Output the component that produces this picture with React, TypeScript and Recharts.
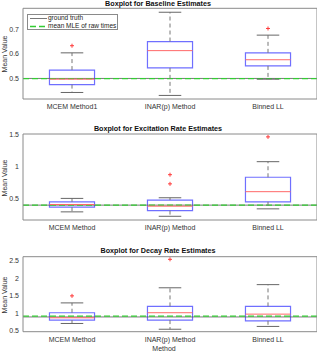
import React from 'react'
import {
  ComposedChart, XAxis, YAxis, ReferenceArea, ReferenceLine, Scatter,
} from 'recharts'

const FONT = '"Liberation Sans", Arial, Helvetica, sans-serif'

const categoriesBaseline = ['MCEM Method1', 'INAR(p) Method', 'Binned LL']
const categories = ['MCEM Method', 'INAR(p) Method', 'Binned LL']

// baseline (mu)
const baseLow = [0.443, 0.431, 0.497]
const baseQ1 = [0.475, 0.543, 0.551]
const baseMed = [0.497, 0.613, 0.576]
const baseQ3 = [0.534, 0.65, 0.604]
const baseHigh = [0.604, 0.769, 0.676]
const baseOutliers = [{ x: 1, y: 0.633 }, { x: 3, y: 0.703 }]
const baseTruth = 0.5
const baseMle = 0.499
const baseTicks = [0.5, 0.6, 0.7]

// excitation (alpha)
const excLow = [0.29, 0.221, 0.337]
const excQ1 = [0.363, 0.31, 0.447]
const excMed = [0.405, 0.379, 0.605]
const excQ3 = [0.447, 0.474, 0.83]
const excHigh = [0.5, 0.51, 1.073]
const excOutliers = [{ x: 2, y: 0.87 }, { x: 2, y: 0.727 }, { x: 3, y: 1.46 }]
const excTruth = 0.395
const excMle = 0.395
const excTicks = [0.5, 1, 1.5]

// decay (beta)
const decLow = [0.714, 0.55, 0.63]
const decQ1 = [0.81, 0.81, 0.79]
const decMed = [0.876, 1.02, 0.98]
const decQ3 = [1.02, 1.2, 1.2]
const decHigh = [1.3, 1.73, 1.82]
const decOutliers = [{ x: 1, y: 1.5 }, { x: 2, y: 2.54 }]
const decTruth = 0.9
const decMle = 0.925
const decTicks = [0.5, 1, 1.5, 2, 2.5]

const BOX_HALF = 0.23
const CAP_HALF = 0.115
const AXIS = '#8a8a8a'
const BLUE = '#6f6fff'
const RED = '#ff6868'
const GREEN = '#33cc33'

function Plus(props: any) {
  const { cx, cy } = props
  return (
    <g stroke="#ff3b3b" strokeWidth={1}>
      <line x1={cx - 2} y1={cy} x2={cx + 2} y2={cy} />
      <line x1={cx} y1={cy - 2} x2={cx} y2={cy + 2} />
    </g>
  )
}

interface PanelProps {
  top: number
  height: number
  margin: { top: number; right: number; bottom: number; left: number }
  domain: [number, number]
  ticks: number[]
  labels: string[]
  low: number[]
  q1: number[]
  med: number[]
  q3: number[]
  high: number[]
  outliers: { x: number; y: number }[]
  truth: number
  mle: number
}

function Panel(p: PanelProps) {
  const tickStyle = { fill: '#333', fontSize: 7, fontFamily: FONT }
  return (
    <div style={{ position: 'absolute', left: 0, top: p.top }}>
      <ComposedChart width={317} height={p.height} margin={p.margin}>
        <XAxis
          dataKey="x" type="number" domain={[0.5, 3.5]} ticks={[1, 2, 3]} allowDataOverflow
          tickFormatter={(v: number) => p.labels[v - 1]} interval={0}
          height={12} tickSize={2} tickMargin={3} tickLine={false}
          axisLine={{ stroke: AXIS }} tick={tickStyle}
        />
        <XAxis
          xAxisId="t" orientation="top" type="number" domain={[0.5, 3.5]} ticks={[1, 2, 3]}
          allowDataOverflow mirror tick={false} tickSize={2} height={1}
          axisLine={{ stroke: AXIS }} tickLine={{ stroke: AXIS }}
        />
        <YAxis
          type="number" domain={p.domain} ticks={p.ticks} allowDataOverflow width={23}
          tickSize={2} tickMargin={2} tickLine={false} axisLine={{ stroke: AXIS }} tick={tickStyle}
        />
        <YAxis
          yAxisId="r" orientation="right" type="number" domain={p.domain} ticks={p.ticks}
          allowDataOverflow mirror tick={false} tickSize={2} width={1}
          axisLine={{ stroke: AXIS }} tickLine={{ stroke: AXIS }}
        />
        <ReferenceLine y={p.truth} stroke="#555" strokeWidth={0.8} />
        <ReferenceLine y={p.mle} stroke={GREEN} strokeWidth={1.3} strokeDasharray="6 3" />
        {p.med.map((m, i) => {
          const x = i + 1
          return (
            <React.Fragment key={i}>
              <ReferenceLine segment={[{ x, y: p.q3[i] }, { x, y: p.high[i] }]} stroke="#777" strokeDasharray="4 3" />
              <ReferenceLine segment={[{ x, y: p.q1[i] }, { x, y: p.low[i] }]} stroke="#777" strokeDasharray="4 3" />
              <ReferenceLine segment={[{ x: x - CAP_HALF, y: p.high[i] }, { x: x + CAP_HALF, y: p.high[i] }]} stroke="#666" />
              <ReferenceLine segment={[{ x: x - CAP_HALF, y: p.low[i] }, { x: x + CAP_HALF, y: p.low[i] }]} stroke="#666" />
              <ReferenceArea x1={x - BOX_HALF} x2={x + BOX_HALF} y1={p.q1[i]} y2={p.q3[i]}
                fill="none" fillOpacity={0} stroke={BLUE} strokeWidth={1.2} />
              <ReferenceLine segment={[{ x: x - BOX_HALF, y: m }, { x: x + BOX_HALF, y: m }]} stroke={RED} />
            </React.Fragment>
          )
        })}
        <Scatter data={p.outliers} dataKey="y" shape={Plus} isAnimationActive={false} />
      </ComposedChart>
    </div>
  )
}

function Title({ text, y }: { text: string; y: number }) {
  return (
    <div style={{
      position: 'absolute', left: 158, top: y - 5, transform: 'translateX(-50%)',
      fontFamily: FONT, fontSize: 7.2, fontWeight: 'bold', lineHeight: '10px',
      whiteSpace: 'nowrap', color: '#111',
    }}>{text}</div>
  )
}

function YLabel({ y }: { y: number }) {
  return (
    <div style={{
      position: 'absolute', left: 4, top: y, transform: 'translate(-50%, -50%) rotate(-90deg)',
      fontFamily: FONT, fontSize: 7, lineHeight: '9px', whiteSpace: 'nowrap', color: '#333',
    }}>Mean Value</div>
  )
}

function LegendBox() {
  return (
    <div style={{
      position: 'absolute', left: 27, top: 13.5, width: 91, height: 16,
      border: `1px solid ${AXIS}`, background: '#fff', boxSizing: 'border-box',
      fontFamily: FONT, fontSize: 6.5, color: '#222',
    }}>
      <svg width={18} height={16} style={{ position: 'absolute', left: 1, top: 0 }}>
        <line x1={1} y1={3.5} x2={18} y2={3.5} stroke="#555" strokeWidth={0.8} />
        <line x1={1} y1={11.5} x2={18} y2={11.5} stroke={GREEN} strokeWidth={1.3} strokeDasharray="6 3" />
      </svg>
      <div style={{ position: 'absolute', left: 20, top: -1, lineHeight: '8px' }}>ground truth</div>
      <div style={{ position: 'absolute', left: 20, top: 7.5, lineHeight: '8px' }}>mean MLE of raw times</div>
    </div>
  )
}

export default function App() {
  return (
    <div style={{ position: 'absolute', left: 0, top: 0, width: 317, height: 351, background: '#fff' }}>
      <Panel
        top={0} height={120} margin={{ top: 8.3, right: 0, bottom: 9, left: 0 }}
        domain={[0.4165, 0.785]} ticks={baseTicks} labels={categoriesBaseline}
        low={baseLow} q1={baseQ1} med={baseMed} q3={baseQ3} high={baseHigh}
        outliers={baseOutliers} truth={baseTruth} mle={baseMle}
      />
      <Panel
        top={120} height={115} margin={{ top: 14, right: 0, bottom: 3, left: 0 }}
        domain={[0.163, 1.505]} ticks={excTicks} labels={categories}
        low={excLow} q1={excQ1} med={excMed} q3={excQ3} high={excHigh}
        outliers={excOutliers} truth={excTruth} mle={excMle}
      />
      <Panel
        top={235} height={116} margin={{ top: 21.7, right: 0, bottom: 7.3, left: 0 }}
        domain={[0.48, 2.615]} ticks={decTicks} labels={categories}
        low={decLow} q1={decQ1} med={decMed} q3={decQ3} high={decHigh}
        outliers={decOutliers} truth={decTruth} mle={decMle}
      />
      <Title text="Boxplot for Baseline Estimates" y={4.2} />
      <Title text="Boxplot for Excitation Rate Estimates" y={128.7} />
      <Title text="Boxplot for Decay Rate Estimates" y={251.2} />
      <YLabel y={54.2} />
      <YLabel y={177.5} />
      <YLabel y={294.7} />
      <LegendBox />
      <div style={{
        position: 'absolute', left: 164, top: 348, transform: 'translate(-50%, -50%)',
        fontFamily: FONT, fontSize: 7, lineHeight: '9px', color: '#333',
      }}>Method</div>
    </div>
  )
}
